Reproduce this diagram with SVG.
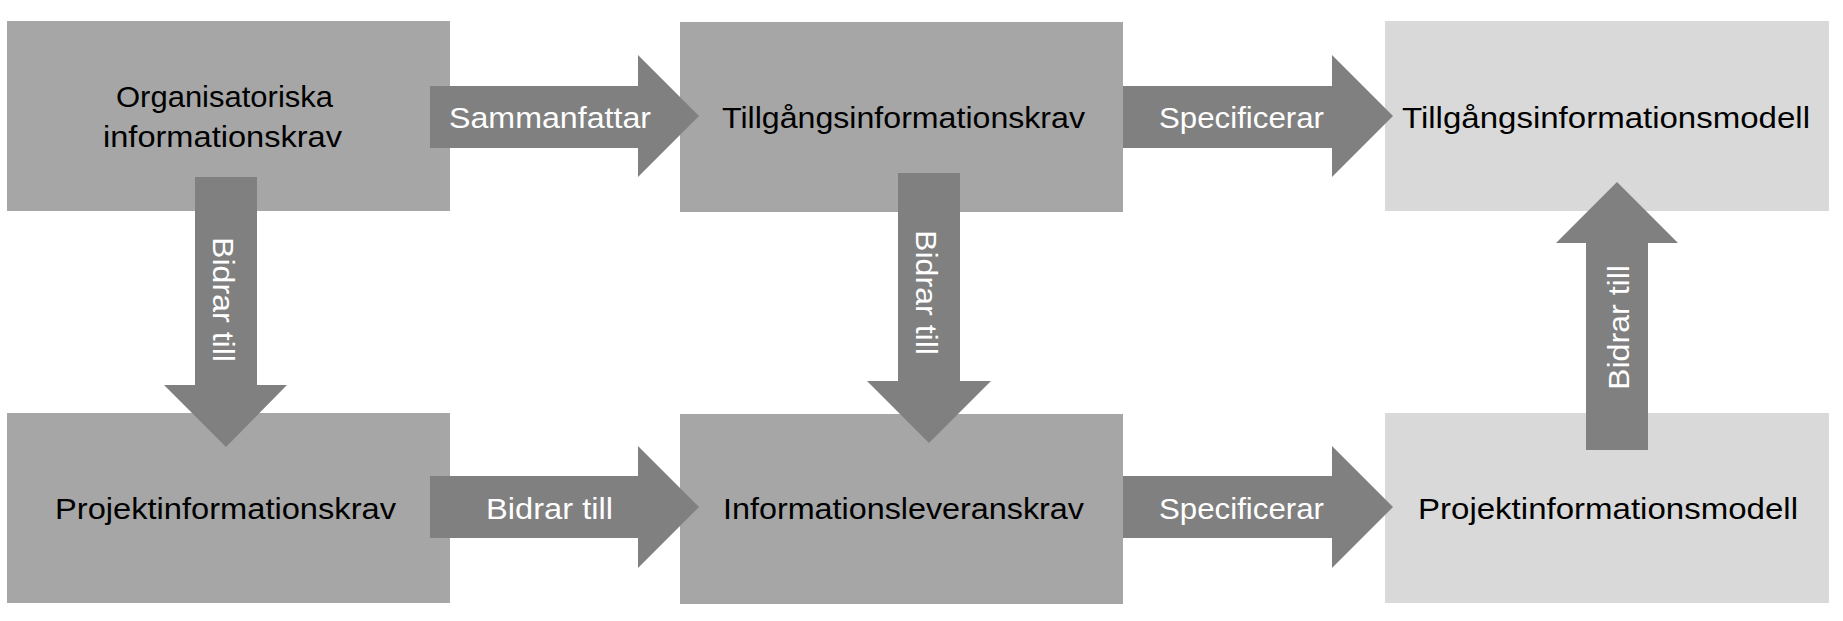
<svg xmlns="http://www.w3.org/2000/svg" width="1843" height="621" viewBox="0 0 1843 621">
<style>
.box{fill:#A6A6A6}
.lbox{fill:#D9D9D9}
.arr{fill:#808080}
.t{font-family:"Liberation Sans",Arial,sans-serif;font-size:29px;fill:#000}
.w{font-family:"Liberation Sans",Arial,sans-serif;font-size:29px;fill:#fff}
</style>
<rect width="1843" height="621" fill="#fff"/>
<g id="n1"><rect class="box" x="7" y="21" width="443" height="190"/>
<text class="t" x="116" y="107" textLength="217" lengthAdjust="spacingAndGlyphs">Organisatoriska</text>
<text class="t" x="103" y="147" textLength="239" lengthAdjust="spacingAndGlyphs">informationskrav</text></g>
<g id="n2"><rect class="box" x="680" y="22" width="443" height="190"/>
<text class="t" x="722" y="128" textLength="363" lengthAdjust="spacingAndGlyphs">Tillgångsinformationskrav</text></g>
<g id="n3"><rect class="lbox" x="1385" y="21" width="444" height="190"/>
<text class="t" x="1402" y="128" textLength="408" lengthAdjust="spacingAndGlyphs">Tillgångsinformationsmodell</text></g>
<g id="n4"><rect class="box" x="7" y="413" width="443" height="190"/>
<text class="t" x="55" y="519" textLength="341" lengthAdjust="spacingAndGlyphs">Projektinformationskrav</text></g>
<g id="n5"><rect class="box" x="680" y="414" width="443" height="190"/>
<text class="t" x="723" y="519" textLength="361" lengthAdjust="spacingAndGlyphs">Informationsleveranskrav</text></g>
<g id="n6"><rect class="lbox" x="1385" y="413" width="444" height="190"/>
<text class="t" x="1418" y="519" textLength="380" lengthAdjust="spacingAndGlyphs">Projektinformationsmodell</text></g>
<g id="connectors">
<g id="e1"><polygon class="arr" points="430,86 638,86 638,55 699,116 638,177 638,148 430,148"/>
<text class="w" x="449" y="128" textLength="202" lengthAdjust="spacingAndGlyphs">Sammanfattar</text></g>
<g id="e2"><polygon class="arr" points="1123,86 1332,86 1332,55 1393,116 1332,177 1332,148 1123,148"/>
<text class="w" x="1159" y="128" textLength="165" lengthAdjust="spacingAndGlyphs">Specificerar</text></g>
<g id="e3"><polygon class="arr" points="430,476 638,476 638,446 699,507 638,568 638,538 430,538"/>
<text class="w" x="486" y="519" textLength="127" lengthAdjust="spacingAndGlyphs">Bidrar till</text></g>
<g id="e4"><polygon class="arr" points="1123,476 1332,476 1332,446 1393,507 1332,568 1332,538 1123,538"/>
<text class="w" x="1159" y="519" textLength="165" lengthAdjust="spacingAndGlyphs">Specificerar</text></g>
<g id="e5"><polygon class="arr" points="195,177 257,177 257,385 287,385 226,447 164,385 195,385"/>
<text class="w" transform="translate(213,237) rotate(90)" x="0" y="0" textLength="125" lengthAdjust="spacingAndGlyphs">Bidrar till</text></g>
<g id="e6"><polygon class="arr" points="898,173 960,173 960,381 991,381 929,443 867,381 898,381"/>
<text class="w" transform="translate(916,230) rotate(90)" x="0" y="0" textLength="125" lengthAdjust="spacingAndGlyphs">Bidrar till</text></g>
<g id="e7"><polygon class="arr" points="1586,450 1648,450 1648,243 1678,243 1617,182 1556,243 1586,243"/>
<text class="w" transform="translate(1629,390) rotate(-90)" x="0" y="0" textLength="125" lengthAdjust="spacingAndGlyphs">Bidrar till</text></g>
</g>
</svg>
